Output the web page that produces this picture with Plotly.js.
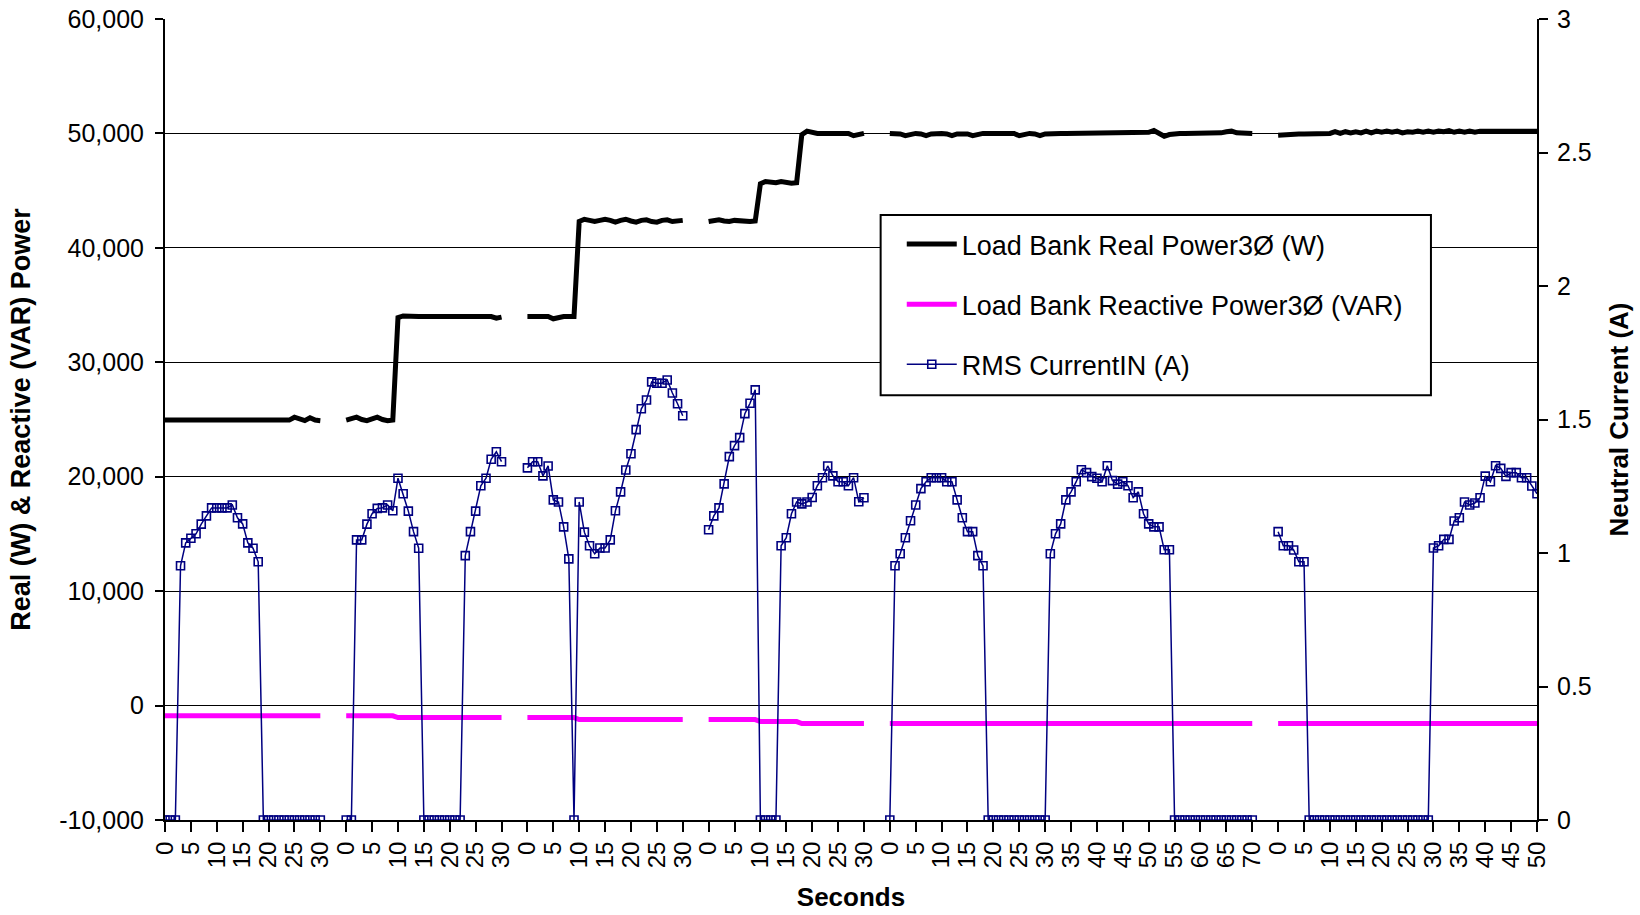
<!DOCTYPE html>
<html>
<head>
<meta charset="utf-8">
<script src="https://cdn.plot.ly/plotly-3.0.1.min.js"></script>
<style>html,body{margin:0;padding:0;background:#fff;}#chart{width:1640px;height:915px;}</style>
</head>
<body>
<div id="chart"></div>
<script>
// ---- Tick labels of the category axis (one label every 5 samples) ----
const timeLabels = ["0","5","10","15","20","25","30",
  "0","5","10","15","20","25","30",
  "0","5","10","15","20","25","30",
  "0","5","10","15","20","25","30",
  "0","5","10","15","20","25","30","35","40","45","50","55","60","65","70",
  "0","5","10","15","20","25","30","35","40","45","50"];

// ---- Left axis tick values / labels ----
const powerTicks = [-10000,0,10000,20000,30000,40000,50000,60000];
const powerTickText = ["-10,000","0","10,000","20,000","30,000","40,000","50,000","60,000"];
// ---- Right axis tick values / labels ----
const currentTicks = [0,0.5,1,1.5,2,2.5,3];
const currentTickText = ["0","0.5","1","1.5","2","2.5","3"];

// ---- Load Bank Real Power 3Ø (W), one value per second, per test run ----
const real1 = [24950,24950,24950,24950,24950,24950,24950,24950,24950,24950,24950,24950,24950,24950,24950,24950,24950,24950,24950,24950,24950,24950,24950,24950,24950,25200,25000,24900,25150,24950,24900];
const real2 = [24950,25050,25200,25000,24900,25050,25200,25000,24900,24950,33900,34050,34000,34000,34000,34000,34000,34000,34000,34000,34000,34000,34000,34000,34000,34000,34000,34000,34000,33850,33950];
const real3 = [34000,34000,33950,34000,34000,33800,33950,34000,34000,34000,42300,42500,42400,42300,42400,42500,42400,42250,42400,42500,42350,42250,42400,42450,42300,42250,42400,42450,42300,42300,42400];
const real4 = [42300,42400,42450,42350,42300,42400,42350,42300,42300,42350,45600,45800,45750,45700,45800,45700,45650,45700,49900,50200,50050,50000,50000,50000,50000,50000,50000,50000,49800,49950,50000];
const real5 = [50000,50000,49950,49800,49950,50000,49950,49800,49950,50000,
  50000,49950,49800,49950,50000,49950,49800,49950,50000,50000,
  50000,50000,50000,50000,50000,49800,49950,50000,49950,49800,
  49950,50000,50000,50000,50000,50000,50000,50000,50000,50000,
  50000,50000,50000,50000,50000,50000,50000,50000,50000,50000,
  50100,50250,50000,49750,49900,50000,50000,50000,50000,50000,
  50000,50000,50000,50000,50050,50150,50200,50050,50000,50000,50000];
const real6 = [49850,49900,49950,49950,49950,49950,49950,49950,49950,49950,
  50000,50150,50000,50150,50050,50150,50050,50200,50050,50200,
  50100,50200,50100,50200,50050,50150,50100,50200,50100,50200,
  50100,50200,50150,50250,50100,50200,50100,50200,50100,50200,
  50200,50200,50200,50200,50200,50200,50200,50200,50200,50200,50200];

// ---- Load Bank Reactive Power 3Ø (VAR) ----
const reac1 = [-900,-900,-900,-900,-900,-900,-900,-900,-900,-900,-900,-900,-900,-900,-900,-900,-900,-900,-900,-900,-900,-900,-900,-900,-900,-900,-900,-900,-900,-900,-900];
const reac2 = [-900,-900,-900,-900,-900,-900,-900,-900,-900,-900,-1050,-1050,-1050,-1050,-1050,-1050,-1050,-1050,-1050,-1050,-1050,-1050,-1050,-1050,-1050,-1050,-1050,-1050,-1050,-1050,-1050];
const reac3 = [-1050,-1050,-1050,-1050,-1050,-1050,-1050,-1050,-1050,-1050,-1225,-1225,-1225,-1225,-1225,-1225,-1225,-1225,-1225,-1225,-1225,-1225,-1225,-1225,-1225,-1225,-1225,-1225,-1225,-1225,-1225];
const reac4 = [-1225,-1225,-1225,-1225,-1225,-1225,-1225,-1225,-1225,-1225,-1400,-1400,-1400,-1400,-1400,-1400,-1400,-1400,-1575,-1575,-1575,-1575,-1575,-1575,-1575,-1575,-1575,-1575,-1575,-1575,-1575];
const reac5 = [-1575,-1575,-1575,-1575,-1575,-1575,-1575,-1575,-1575,-1575,
  -1575,-1575,-1575,-1575,-1575,-1575,-1575,-1575,-1575,-1575,
  -1575,-1575,-1575,-1575,-1575,-1575,-1575,-1575,-1575,-1575,
  -1575,-1575,-1575,-1575,-1575,-1575,-1575,-1575,-1575,-1575,
  -1575,-1575,-1575,-1575,-1575,-1575,-1575,-1575,-1575,-1575,
  -1575,-1575,-1575,-1575,-1575,-1575,-1575,-1575,-1575,-1575,
  -1575,-1575,-1575,-1575,-1575,-1575,-1575,-1575,-1575,-1575,-1575];
const reac6 = [-1575,-1575,-1575,-1575,-1575,-1575,-1575,-1575,-1575,-1575,
  -1575,-1575,-1575,-1575,-1575,-1575,-1575,-1575,-1575,-1575,
  -1575,-1575,-1575,-1575,-1575,-1575,-1575,-1575,-1575,-1575,
  -1575,-1575,-1575,-1575,-1575,-1575,-1575,-1575,-1575,-1575,
  -1575,-1575,-1575,-1575,-1575,-1575,-1575,-1575,-1575,-1575,-1575];

// ---- RMS Current IN (A) ----
const cur1 = [0,0,0,0.952,1.038,1.055,1.072,1.108,1.139,1.169,1.169,1.169,1.169,1.18,1.132,1.109,1.038,1.018,0.967,0,0,0,0,0,0,0,0,0,0,0,0];
const cur2 = [0,0,1.049,1.049,1.108,1.147,1.167,1.169,1.18,1.158,1.28,1.222,1.157,1.08,1.018,0,0,0,0,0,0,0,0,0.99,1.08,1.157,1.252,1.28,1.351,1.379,1.342];
const cur3 = [1.319,1.342,1.342,1.289,1.326,1.199,1.191,1.098,0.978,0,1.191,1.078,1.027,0.997,1.019,1.019,1.049,1.158,1.229,1.311,1.372,1.462,1.54,1.573,1.641,1.636,1.636,1.648,1.599,1.559,1.514];
const cur4 = [1.087,1.139,1.169,1.259,1.361,1.402,1.432,1.522,1.561,1.611,0,0,0,0,1.027,1.057,1.147,1.191,1.184,1.191,1.208,1.252,1.282,1.326,1.289,1.267,1.267,1.252,1.282,1.192,1.207];
const cur5 = [0,0.952,0.997,1.057,1.121,1.18,1.241,1.267,1.282,1.282,
  1.282,1.267,1.267,1.199,1.132,1.08,1.08,0.99,0.952,0,
  0,0,0,0,0,0,0,0,0,0,
  0,0.997,1.072,1.109,1.199,1.229,1.267,1.312,1.301,1.286,
  1.28,1.267,1.327,1.271,1.258,1.267,1.252,1.207,1.229,1.147,
  1.109,1.098,1.098,1.012,1.012,0,0,0,0,0,
  0,0,0,0,0,0,0,0,0,0,0];
const cur6 = [1.08,1.027,1.027,1.011,0.967,0.967,0,0,0,0,
  0,0,0,0,0,0,0,0,0,0,
  0,0,0,0,0,0,0,0,0,0,
  1.019,1.027,1.051,1.051,1.12,1.132,1.191,1.18,1.187,1.207,
  1.288,1.267,1.327,1.317,1.287,1.301,1.301,1.282,1.282,1.251,1.222];

// ---- assemble runs on one category axis, blank categories between runs ----
const GAP = 4;
function joinRuns(runs){
  const out = [];
  runs.forEach((r,k)=>{ if(k>0){ for(let i=0;i<GAP;i++) out.push(null); } r.forEach(v=>out.push(v)); });
  return out;
}
const realAll = joinRuns([real1,real2,real3,real4,real5,real6]);
const reacAll = joinRuns([reac1,reac2,reac3,reac4,reac5,reac6]);
const curAll  = joinRuns([cur1,cur2,cur3,cur4,cur5,cur6]);
const xIdx = realAll.map((_,i)=>i);
const tickPos = timeLabels.map((_,i)=>i*5);

const FONT = "Liberation Sans, Arial, Helvetica, sans-serif";

const traces = [
  {x:xIdx, y:realAll, name:"Load Bank Real Power3Ø (W)", type:"scatter", mode:"lines",
   line:{color:"#000000", width:5}, connectgaps:false, legendgroup:"a", hoverinfo:"skip"},
  {x:xIdx, y:reacAll, name:"Load Bank Reactive Power3Ø (VAR)", type:"scatter", mode:"lines",
   line:{color:"#FF00FF", width:5}, connectgaps:false, legendgroup:"b", hoverinfo:"skip"},
  {x:xIdx, y:curAll, name:"RMS CurrentIN (A)", type:"scatter", mode:"lines+markers", yaxis:"y2",
   line:{color:"#000080", width:1.5}, marker:{symbol:"square-open", size:8, color:"#000080", line:{width:1.6, color:"#000080"}},
   connectgaps:false, legendgroup:"c", hoverinfo:"skip"}
];

const layout = {
  width:1640, height:915,
  paper_bgcolor:"#ffffff", plot_bgcolor:"#ffffff",
  font:{family:FONT, color:"#000000", size:25},
  margin:{l:165, r:103, t:19, b:95, autoexpand:false},
  showlegend:true,
  legend:{x:0.537, y:0.749, xanchor:"left", yanchor:"top",
    bgcolor:"rgba(0,0,0,0)", borderwidth:0,
    font:{family:FONT, size:27, color:"#000000"},
    tracegroupgap:22, traceorder:"grouped", itemwidth:50},
  shapes:[{type:"rect", xref:"paper", yref:"paper", x0:0.5216, x1:0.9227, y0:0.5302, y1:0.7552,
    fillcolor:"#ffffff", line:{color:"#000000", width:2}, layer:"above"}],
  xaxis:{range:[0,265], tickmode:"array", tickvals:tickPos, ticktext:timeLabels,
    tickangle:-90, ticks:"outside", ticklen:10, tickwidth:2, tickcolor:"#000",
    showline:true, linecolor:"#000", linewidth:2, showgrid:false, zeroline:false,
    tickfont:{family:FONT, size:24},
    title:{text:"<b>Seconds</b>", font:{family:FONT, size:26}, standoff:20}, automargin:false},
  yaxis:{range:[-10000,60000], tickmode:"array", tickvals:powerTicks, ticktext:powerTickText,
    ticks:"outside", ticklen:8, tickwidth:2,
    tickcolor:"#000", showline:true, linecolor:"#000", linewidth:2,
    showgrid:true, gridcolor:"#000", gridwidth:1, zeroline:false,
    tickfont:{family:FONT, size:25}, ticklabelstandoff:6,
    title:{text:"<b>Real (W) & Reactive (VAR) Power</b>", font:{family:FONT, size:27}, standoff:21}, automargin:false},
  yaxis2:{range:[0,3], tickmode:"array", tickvals:currentTicks, ticktext:currentTickText,
    overlaying:"y", side:"right", ticks:"outside", ticklen:9, tickwidth:2,
    tickcolor:"#000", showline:true, linecolor:"#000", linewidth:2, showgrid:false, zeroline:false,
    tickfont:{family:FONT, size:25}, ticklabelstandoff:4,
    title:{text:"<b>Neutral Current (A)</b>", font:{family:FONT, size:26}, standoff:19}, automargin:false},
  yaxis3:{range:[0,3], tickmode:"array", tickvals:currentTicks, overlaying:"y", side:"right", anchor:"x",
    ticks:"inside", ticklen:9, tickwidth:2, tickcolor:"#000", showticklabels:false,
    showline:false, showgrid:false, zeroline:false}
};

Plotly.newPlot("chart", traces, layout, {staticPlot:true, displayModeBar:false});
</script>
</body>
</html>
